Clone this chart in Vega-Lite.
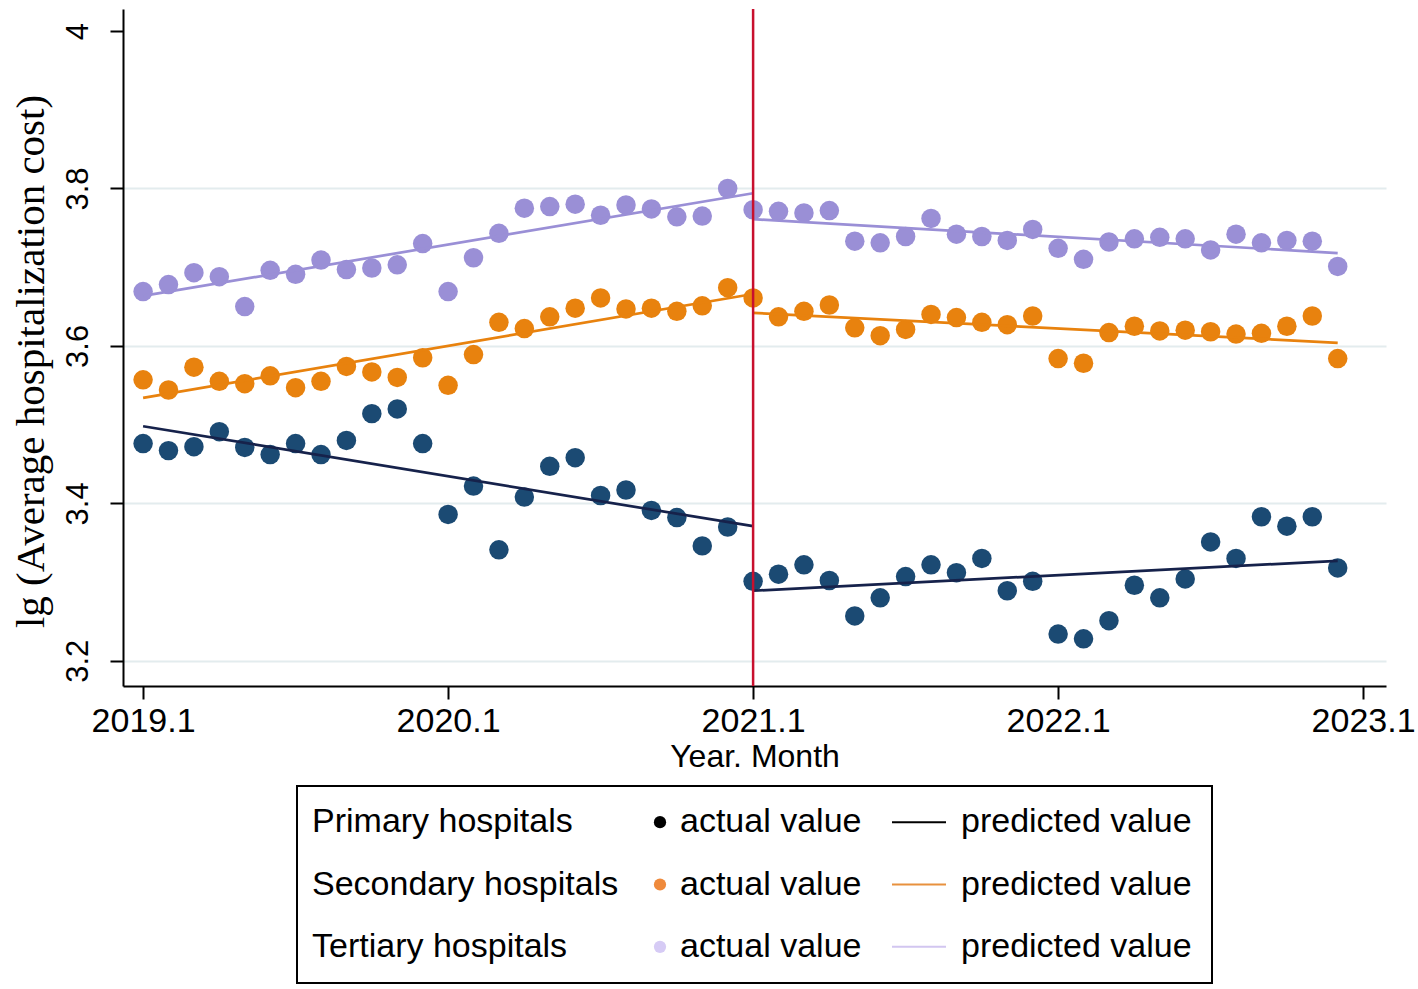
{
  "$schema": "https://vega.github.io/schema/vega-lite/v6.json",
  "padding": {"left": 10, "top": 7, "right": 4, "bottom": 7},
  "background": "white",
  "bounds": "flush",
  "center": true,
  "spacing": 100,
  "config": {
    "view": {"stroke": null},
    "axis": {
      "domainColor": "black", "domainWidth": 2,
      "tickColor": "black", "tickWidth": 2, "tickSize": 13,
      "labelColor": "black", "titleColor": "black",
      "labelFont": "Liberation Sans", "titleFont": "Liberation Sans",
      "titleFontWeight": "normal"
    }
  },
  "resolve": {"scale": {"x": "independent", "y": "independent", "fill": "independent", "stroke": "independent"}},
  "datasets": {
    "actual": [
      {"t":0,"type":"Primary hospitals","value":3.476},{"t":1,"type":"Primary hospitals","value":3.467},{"t":2,"type":"Primary hospitals","value":3.472},{"t":3,"type":"Primary hospitals","value":3.491},{"t":4,"type":"Primary hospitals","value":3.471},{"t":5,"type":"Primary hospitals","value":3.462},{"t":6,"type":"Primary hospitals","value":3.476},{"t":7,"type":"Primary hospitals","value":3.462},{"t":8,"type":"Primary hospitals","value":3.480},{"t":9,"type":"Primary hospitals","value":3.514},{"t":10,"type":"Primary hospitals","value":3.520},{"t":11,"type":"Primary hospitals","value":3.476},{"t":12,"type":"Primary hospitals","value":3.386},{"t":13,"type":"Primary hospitals","value":3.422},{"t":14,"type":"Primary hospitals","value":3.341},{"t":15,"type":"Primary hospitals","value":3.408},{"t":16,"type":"Primary hospitals","value":3.447},{"t":17,"type":"Primary hospitals","value":3.458},{"t":18,"type":"Primary hospitals","value":3.410},{"t":19,"type":"Primary hospitals","value":3.417},{"t":20,"type":"Primary hospitals","value":3.391},{"t":21,"type":"Primary hospitals","value":3.382},{"t":22,"type":"Primary hospitals","value":3.346},{"t":23,"type":"Primary hospitals","value":3.370},{"t":24,"type":"Primary hospitals","value":3.301},{"t":25,"type":"Primary hospitals","value":3.310},{"t":26,"type":"Primary hospitals","value":3.322},{"t":27,"type":"Primary hospitals","value":3.302},{"t":28,"type":"Primary hospitals","value":3.257},{"t":29,"type":"Primary hospitals","value":3.280},{"t":30,"type":"Primary hospitals","value":3.307},{"t":31,"type":"Primary hospitals","value":3.322},{"t":32,"type":"Primary hospitals","value":3.312},{"t":33,"type":"Primary hospitals","value":3.330},{"t":34,"type":"Primary hospitals","value":3.289},{"t":35,"type":"Primary hospitals","value":3.301},{"t":36,"type":"Primary hospitals","value":3.234},{"t":37,"type":"Primary hospitals","value":3.228},{"t":38,"type":"Primary hospitals","value":3.251},{"t":39,"type":"Primary hospitals","value":3.296},{"t":40,"type":"Primary hospitals","value":3.280},{"t":41,"type":"Primary hospitals","value":3.304},{"t":42,"type":"Primary hospitals","value":3.351},{"t":43,"type":"Primary hospitals","value":3.330},{"t":44,"type":"Primary hospitals","value":3.383},{"t":45,"type":"Primary hospitals","value":3.371},{"t":46,"type":"Primary hospitals","value":3.383},{"t":47,"type":"Primary hospitals","value":3.318},
      {"t":0,"type":"Secondary hospitals","value":3.557},{"t":1,"type":"Secondary hospitals","value":3.544},{"t":2,"type":"Secondary hospitals","value":3.573},{"t":3,"type":"Secondary hospitals","value":3.555},{"t":4,"type":"Secondary hospitals","value":3.552},{"t":5,"type":"Secondary hospitals","value":3.562},{"t":6,"type":"Secondary hospitals","value":3.547},{"t":7,"type":"Secondary hospitals","value":3.555},{"t":8,"type":"Secondary hospitals","value":3.574},{"t":9,"type":"Secondary hospitals","value":3.567},{"t":10,"type":"Secondary hospitals","value":3.560},{"t":11,"type":"Secondary hospitals","value":3.585},{"t":12,"type":"Secondary hospitals","value":3.550},{"t":13,"type":"Secondary hospitals","value":3.589},{"t":14,"type":"Secondary hospitals","value":3.630},{"t":15,"type":"Secondary hospitals","value":3.622},{"t":16,"type":"Secondary hospitals","value":3.637},{"t":17,"type":"Secondary hospitals","value":3.648},{"t":18,"type":"Secondary hospitals","value":3.661},{"t":19,"type":"Secondary hospitals","value":3.647},{"t":20,"type":"Secondary hospitals","value":3.648},{"t":21,"type":"Secondary hospitals","value":3.644},{"t":22,"type":"Secondary hospitals","value":3.651},{"t":23,"type":"Secondary hospitals","value":3.674},{"t":24,"type":"Secondary hospitals","value":3.661},{"t":25,"type":"Secondary hospitals","value":3.637},{"t":26,"type":"Secondary hospitals","value":3.644},{"t":27,"type":"Secondary hospitals","value":3.652},{"t":28,"type":"Secondary hospitals","value":3.623},{"t":29,"type":"Secondary hospitals","value":3.613},{"t":30,"type":"Secondary hospitals","value":3.621},{"t":31,"type":"Secondary hospitals","value":3.640},{"t":32,"type":"Secondary hospitals","value":3.636},{"t":33,"type":"Secondary hospitals","value":3.630},{"t":34,"type":"Secondary hospitals","value":3.627},{"t":35,"type":"Secondary hospitals","value":3.638},{"t":36,"type":"Secondary hospitals","value":3.584},{"t":37,"type":"Secondary hospitals","value":3.578},{"t":38,"type":"Secondary hospitals","value":3.617},{"t":39,"type":"Secondary hospitals","value":3.625},{"t":40,"type":"Secondary hospitals","value":3.619},{"t":41,"type":"Secondary hospitals","value":3.620},{"t":42,"type":"Secondary hospitals","value":3.618},{"t":43,"type":"Secondary hospitals","value":3.615},{"t":44,"type":"Secondary hospitals","value":3.616},{"t":45,"type":"Secondary hospitals","value":3.625},{"t":46,"type":"Secondary hospitals","value":3.638},{"t":47,"type":"Secondary hospitals","value":3.584},
      {"t":0,"type":"Tertiary hospitals","value":3.669},{"t":1,"type":"Tertiary hospitals","value":3.678},{"t":2,"type":"Tertiary hospitals","value":3.693},{"t":3,"type":"Tertiary hospitals","value":3.688},{"t":4,"type":"Tertiary hospitals","value":3.650},{"t":5,"type":"Tertiary hospitals","value":3.696},{"t":6,"type":"Tertiary hospitals","value":3.691},{"t":7,"type":"Tertiary hospitals","value":3.709},{"t":8,"type":"Tertiary hospitals","value":3.697},{"t":9,"type":"Tertiary hospitals","value":3.699},{"t":10,"type":"Tertiary hospitals","value":3.703},{"t":11,"type":"Tertiary hospitals","value":3.730},{"t":12,"type":"Tertiary hospitals","value":3.669},{"t":13,"type":"Tertiary hospitals","value":3.712},{"t":14,"type":"Tertiary hospitals","value":3.743},{"t":15,"type":"Tertiary hospitals","value":3.775},{"t":16,"type":"Tertiary hospitals","value":3.777},{"t":17,"type":"Tertiary hospitals","value":3.780},{"t":18,"type":"Tertiary hospitals","value":3.766},{"t":19,"type":"Tertiary hospitals","value":3.779},{"t":20,"type":"Tertiary hospitals","value":3.774},{"t":21,"type":"Tertiary hospitals","value":3.764},{"t":22,"type":"Tertiary hospitals","value":3.765},{"t":23,"type":"Tertiary hospitals","value":3.800},{"t":24,"type":"Tertiary hospitals","value":3.773},{"t":25,"type":"Tertiary hospitals","value":3.771},{"t":26,"type":"Tertiary hospitals","value":3.769},{"t":27,"type":"Tertiary hospitals","value":3.772},{"t":28,"type":"Tertiary hospitals","value":3.733},{"t":29,"type":"Tertiary hospitals","value":3.731},{"t":30,"type":"Tertiary hospitals","value":3.739},{"t":31,"type":"Tertiary hospitals","value":3.762},{"t":32,"type":"Tertiary hospitals","value":3.742},{"t":33,"type":"Tertiary hospitals","value":3.739},{"t":34,"type":"Tertiary hospitals","value":3.734},{"t":35,"type":"Tertiary hospitals","value":3.748},{"t":36,"type":"Tertiary hospitals","value":3.724},{"t":37,"type":"Tertiary hospitals","value":3.710},{"t":38,"type":"Tertiary hospitals","value":3.732},{"t":39,"type":"Tertiary hospitals","value":3.736},{"t":40,"type":"Tertiary hospitals","value":3.738},{"t":41,"type":"Tertiary hospitals","value":3.736},{"t":42,"type":"Tertiary hospitals","value":3.722},{"t":43,"type":"Tertiary hospitals","value":3.742},{"t":44,"type":"Tertiary hospitals","value":3.731},{"t":45,"type":"Tertiary hospitals","value":3.734},{"t":46,"type":"Tertiary hospitals","value":3.733},{"t":47,"type":"Tertiary hospitals","value":3.701}
    ],
    "predicted": [
      {"type":"Primary hospitals","seg":"pre","t":0,"pred":3.498},{"type":"Primary hospitals","seg":"pre","t":24,"pred":3.371},
      {"type":"Primary hospitals","seg":"post","t":24,"pred":3.289},{"type":"Primary hospitals","seg":"post","t":47,"pred":3.327},
      {"type":"Secondary hospitals","seg":"pre","t":0,"pred":3.534},{"type":"Secondary hospitals","seg":"pre","t":24,"pred":3.666},
      {"type":"Secondary hospitals","seg":"post","t":24,"pred":3.642},{"type":"Secondary hospitals","seg":"post","t":47,"pred":3.604},
      {"type":"Tertiary hospitals","seg":"pre","t":0,"pred":3.6635},{"type":"Tertiary hospitals","seg":"pre","t":24,"pred":3.794},
      {"type":"Tertiary hospitals","seg":"post","t":24,"pred":3.761},{"type":"Tertiary hospitals","seg":"post","t":47,"pred":3.718}
    ],
    "legendRows": [
      {"type":"Primary hospitals"},{"type":"Secondary hospitals"},{"type":"Tertiary hospitals"}
    ]
  },
  "vconcat": [
    {
      "width": 1263,
      "height": 677,
      "layer": [
        {
          "data": {"name": "actual"},
          "mark": {"type": "point", "filled": true, "opacity": 1, "size": 380, "shape": "circle"},
          "encoding": {
            "x": {
              "field": "t", "type": "quantitative",
              "scale": {"domain": [-0.79, 48.9], "nice": false, "zero": false},
              "axis": {
                "values": [0, 12, 24, 36, 48],
                "labelExpr": "(2019 + datum.value / 12) + '.1'",
                "grid": false, "labelFontSize": 34, "labelPadding": 5,
                "labelFlush": false,
                "title": "Year. Month", "titleFontSize": 32, "titlePadding": 3
              }
            },
            "y": {
              "field": "value", "type": "quantitative",
              "scale": {"domain": [3.168, 4.028], "nice": false, "zero": false},
              "axis": {
                "values": [3.2, 3.4, 3.6, 3.8, 4],
                "format": ".1~f",
                "labelAngle": -90, "labelAlign": "center", "labelBaseline": "bottom",
                "labelFontSize": 31, "labelPadding": 16,
                "grid": true, "gridColor": "#e3ecee", "gridWidth": 2,
                "gridOpacity": {"condition": {"test": "datum.value >= 3.99", "value": 0}, "value": 1},
                "title": "lg (Average hospitalization cost)",
                "titleFont": "Liberation Serif", "titleFontSize": 41, "titlePadding": 10,
                "titleY": 352
              }
            },
            "fill": {
              "field": "type", "type": "nominal",
              "scale": {"domain": ["Primary hospitals", "Secondary hospitals", "Tertiary hospitals"], "range": ["#1b4a73", "#e8820e", "#9a8fd6"]},
              "legend": null
            }
          }
        },
        {
          "data": {"name": "predicted"},
          "mark": {"type": "line", "strokeWidth": 2.7},
          "encoding": {
            "x": {"field": "t", "type": "quantitative"},
            "y": {"field": "pred", "type": "quantitative"},
            "detail": {"field": "seg"},
            "stroke": {
              "field": "type", "type": "nominal",
              "scale": {"domain": ["Primary hospitals", "Secondary hospitals", "Tertiary hospitals"], "range": ["#16224b", "#e8820e", "#9a8fd6"]},
              "legend": null
            }
          }
        },
        {
          "data": {"values": [{}]},
          "mark": {"type": "rule", "color": "#c8102e", "strokeWidth": 2.5},
          "encoding": {"x": {"datum": 24, "type": "quantitative"}}
        }
      ]
    },
    {
      "width": 915,
      "height": 197,
      "view": {"stroke": "black", "strokeWidth": 2},
      "data": {"name": "legendRows"},
      "encoding": {
        "y": {
          "field": "type", "type": "nominal",
          "scale": {"type": "point", "padding": 0.58, "domain": ["Primary hospitals", "Secondary hospitals", "Tertiary hospitals"]},
          "axis": null
        }
      },
      "layer": [
        {
          "mark": {"type": "text", "align": "left", "baseline": "middle", "font": "Liberation Sans", "fontSize": 34, "color": "black"},
          "encoding": {
            "x": {"datum": 15, "type": "quantitative", "scale": {"domain": [0, 915], "nice": false, "zero": false}, "axis": null},
            "text": {"field": "type"}
          }
        },
        {
          "mark": {"type": "point", "filled": true, "opacity": 1, "size": 150, "shape": "circle"},
          "encoding": {
            "x": {"datum": 363, "type": "quantitative"},
            "fill": {
              "field": "type", "type": "nominal",
              "scale": {"domain": ["Primary hospitals", "Secondary hospitals", "Tertiary hospitals"], "range": ["#000000", "#ef8a3c", "#d6cbf5"]},
              "legend": null
            }
          }
        },
        {
          "mark": {"type": "text", "align": "left", "baseline": "middle", "font": "Liberation Sans", "fontSize": 34, "color": "black", "text": "actual value"},
          "encoding": {"x": {"datum": 383, "type": "quantitative"}}
        },
        {
          "mark": {"type": "rule", "strokeWidth": 2},
          "encoding": {
            "x": {"datum": 595, "type": "quantitative"},
            "x2": {"datum": 649},
            "stroke": {
              "field": "type", "type": "nominal",
              "scale": {"domain": ["Primary hospitals", "Secondary hospitals", "Tertiary hospitals"], "range": ["#000000", "#e8913e", "#d2c6f0"]},
              "legend": null
            }
          }
        },
        {
          "mark": {"type": "text", "align": "left", "baseline": "middle", "font": "Liberation Sans", "fontSize": 34, "color": "black", "text": "predicted value"},
          "encoding": {"x": {"datum": 664, "type": "quantitative"}}
        }
      ]
    }
  ]
}
